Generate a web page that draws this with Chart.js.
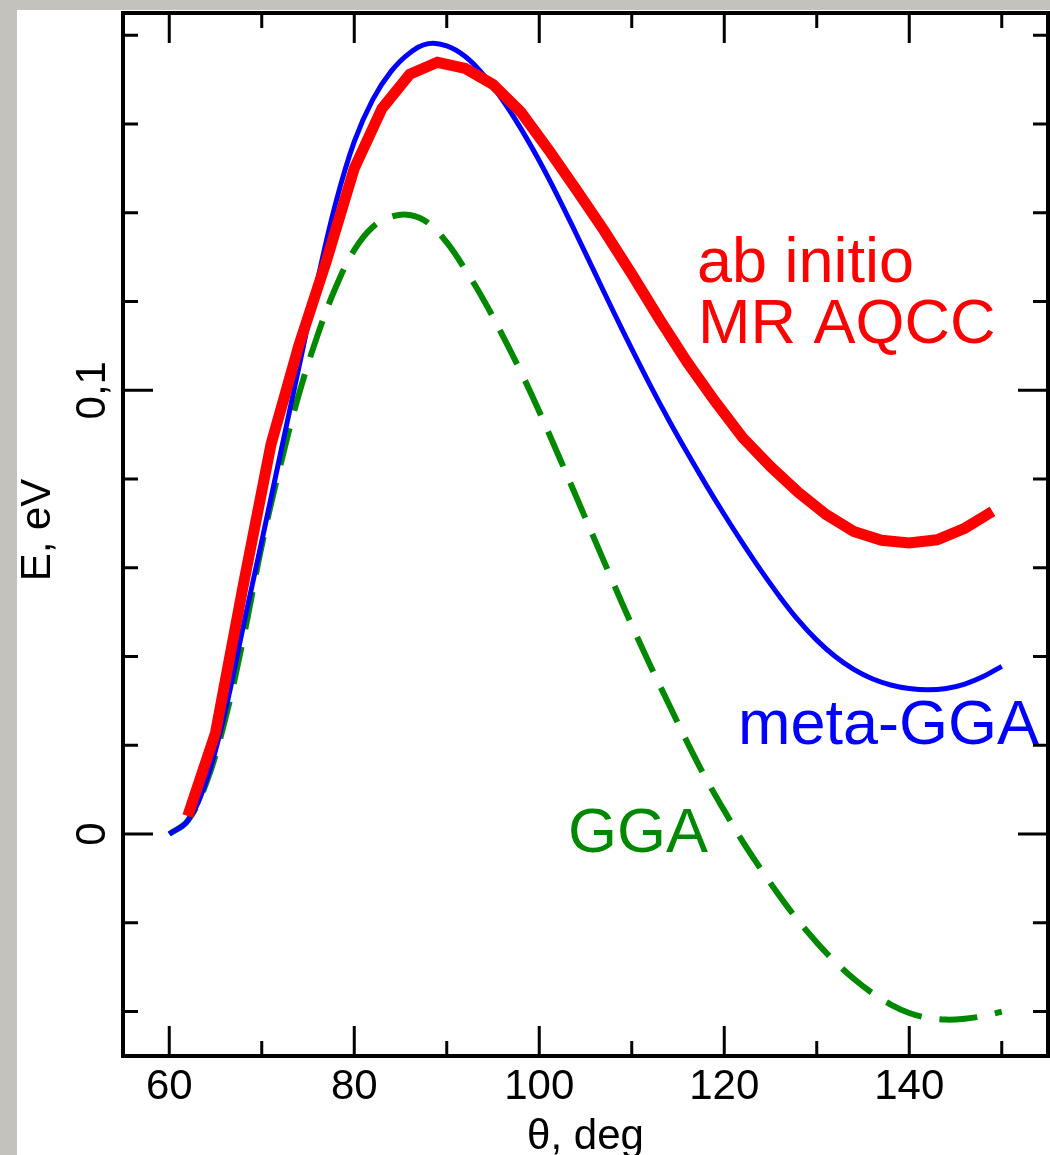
<!DOCTYPE html>
<html>
<head>
<meta charset="utf-8">
<script src="https://cdn.jsdelivr.net/npm/chart.js@4"></script>
<style>
  html, body { margin: 0; padding: 0; }
  body { width: 1050px; height: 1155px; background: #c4c2bc; position: relative; overflow: hidden; }
  #panel { position: absolute; left: 17px; top: 10px; width: 1033px; height: 1145px; background: #fff; }
  canvas { display: block; }
</style>
</head>
<body>
<div id="panel"><canvas id="chart" width="1033" height="1145"></canvas></div>
<script>
// angle grid of the DFT scans, deg
const thetaDft = [60, 62, 64, 66, 68, 70, 72, 74, 76, 78, 80, 82, 84, 86, 88, 90, 92, 94, 96, 98,
  100, 102, 104, 106, 108, 110, 112, 114, 116, 118, 120, 122, 124, 126, 128, 130, 132, 134, 136, 138,
  140, 142, 144, 146, 148, 150];

// meta-GGA energies, eV
const metaGga = [0.0000, 0.0030, 0.0120, 0.0272, 0.0468, 0.0660, 0.0855, 0.1050, 0.1245, 0.1422,
  0.1560, 0.1655, 0.1719, 0.1760, 0.1781, 0.1776, 0.1752, 0.1710, 0.1655, 0.1590,
  0.1517, 0.1437, 0.1352, 0.1265, 0.1178, 0.1093, 0.1011, 0.0933, 0.0859, 0.0788,
  0.0720, 0.0655, 0.0593, 0.0535, 0.0482, 0.0437, 0.0400, 0.0371, 0.0350, 0.0336,
  0.0328, 0.0325, 0.0328, 0.0338, 0.0355, 0.0378];

// GGA energies, eV
const gga = [0.0000, 0.0030, 0.0115, 0.0255, 0.0440, 0.0650, 0.0830, 0.0990, 0.1122, 0.1232,
  0.1316, 0.1368, 0.1391, 0.1395, 0.1377, 0.1333, 0.1272, 0.1203, 0.1125, 0.1042,
  0.0952, 0.0857, 0.0760, 0.0663, 0.0566, 0.0471, 0.0380, 0.0293, 0.0207, 0.0126,
  0.0053, -0.0017, -0.0080, -0.0140, -0.0195, -0.0244, -0.0288, -0.0326, -0.0358, -0.0384,
  -0.0403, -0.0414, -0.0418, -0.0416, -0.0410, -0.0400];

// ab initio MR AQCC points, deg / eV
const thetaAqcc = [62, 65, 68, 71, 74, 77, 80, 83, 86, 89, 92, 95, 98, 101, 104, 107, 110, 113, 116, 119,
  122, 125, 128, 131, 134, 137, 140, 143, 146, 149];
const aqcc = [0.0041, 0.0228, 0.0560, 0.0878, 0.1100, 0.1292, 0.1500, 0.1635, 0.1712, 0.1739,
  0.1725, 0.1689, 0.1627, 0.1542, 0.1452, 0.1360, 0.1262, 0.1160, 0.1063, 0.0975,
  0.0893, 0.0828, 0.0770, 0.0720, 0.0682, 0.0662, 0.0656, 0.0663, 0.0689, 0.0727];

const xTicks = [60, 70, 80, 90, 100, 110, 120, 130, 140, 150];
const xLabelled = [60, 80, 100, 120, 140];
const yTicks = [-0.04, -0.02, 0, 0.02, 0.04, 0.06, 0.08, 0.1, 0.12, 0.14, 0.16, 0.18];
const yLabelled = [0, 0.1];
const yLabelText = ['0', '0,1'];

const FONT = '"Liberation Sans", Arial, sans-serif';

function pts(xs, ys) {
  return xs.map((x, i) => ({ x: x, y: ys[i] }));
}

// frame, inward ticks on all four sides, rotated y labels, axis titles, curve labels
const frameAndText = {
  id: 'frameAndText',
  afterDatasetsDraw(chart) {
    const { ctx, chartArea: a, scales: { x, y } } = chart;
    ctx.save();
    ctx.strokeStyle = '#000';
    ctx.lineWidth = 3;
    ctx.beginPath();
    xTicks.forEach(v => {
      const px = x.getPixelForValue(v);
      const len = xLabelled.includes(v) ? 30 : 15;
      ctx.moveTo(px, a.bottom); ctx.lineTo(px, a.bottom - len);
      ctx.moveTo(px, a.top); ctx.lineTo(px, a.top + len);
    });
    yTicks.forEach(v => {
      const py = y.getPixelForValue(v);
      const len = yLabelled.some(l => Math.abs(l - v) < 1e-9) ? 30 : 15;
      ctx.moveTo(a.left, py); ctx.lineTo(a.left + len, py);
      ctx.moveTo(a.right, py); ctx.lineTo(a.right - len, py);
    });
    ctx.stroke();

    ctx.lineWidth = 4;
    ctx.strokeRect(a.left, a.top, a.right - a.left, a.bottom - a.top);

    ctx.fillStyle = '#000';
    ctx.font = '42px ' + FONT;
    ctx.textAlign = 'center';
    ctx.textBaseline = 'alphabetic';
    yLabelled.forEach((v, i) => {
      ctx.save();
      ctx.translate(88, y.getPixelForValue(v));
      ctx.rotate(-Math.PI / 2);
      ctx.fillText(yLabelText[i], 0, 0);
      ctx.restore();
    });

    ctx.save();
    ctx.translate(33, 520);
    ctx.rotate(-Math.PI / 2);
    ctx.fillText('E, eV', 0, 0);
    ctx.restore();

    ctx.fillText('\u03b8, deg', (a.left + a.right) / 2, 1139);

    ctx.font = '63px ' + FONT;
    ctx.textAlign = 'left';
    ctx.fillStyle = '#ff0000';
    ctx.fillText('ab initio', 680, 272);
    ctx.fillText('MR AQCC', 681, 333);
    ctx.fillStyle = '#0000ff';
    ctx.fillText('meta-GGA', 721, 734);
    ctx.fillStyle = '#008800';
    ctx.fillText('GGA', 551, 842);
    ctx.restore();
  }
};

new Chart(document.getElementById('chart'), {
  type: 'line',
  data: {
    datasets: [
      {
        label: 'ab initio MR AQCC',
        data: pts(thetaAqcc, aqcc),
        borderColor: '#ff0000',
        borderWidth: 11,
        borderJoinStyle: 'miter',
        tension: 0,
        pointRadius: 0
      },
      {
        label: 'meta-GGA',
        data: pts(thetaDft, metaGga),
        borderColor: '#0000ff',
        borderWidth: 5,
        tension: 0.4,
        pointRadius: 0
      },
      {
        label: 'GGA',
        data: pts(thetaDft, gga),
        borderColor: '#008800',
        borderWidth: 6,
        borderDash: [38, 18],
        tension: 0.4,
        pointRadius: 0
      }
    ]
  },
  options: {
    responsive: false,
    animation: false,
    devicePixelRatio: 1,
    layout: { padding: { top: 3, right: 2, left: 0, bottom: 0 } },
    plugins: {
      legend: { display: false },
      tooltip: { enabled: false }
    },
    scales: {
      x: {
        type: 'linear',
        min: 55,
        max: 155,
        grid: { display: false, drawTicks: false },
        border: { display: false },
        afterBuildTicks: s => { s.ticks = xTicks.map(v => ({ value: v })); },
        afterFit: s => { s.height = 99; },
        ticks: {
          autoSkip: false,
          maxRotation: 0,
          padding: 6,
          color: '#000',
          font: { family: FONT, size: 42 },
          callback: v => (xLabelled.includes(v) ? String(v) : '')
        }
      },
      y: {
        type: 'linear',
        min: -0.05,
        max: 0.185,
        grid: { display: false, drawTicks: false },
        border: { display: false },
        afterBuildTicks: s => { s.ticks = yTicks.map(v => ({ value: v })); },
        afterFit: s => { s.width = 106; },
        ticks: { display: false }
      }
    }
  },
  plugins: [frameAndText]
});
</script>
</body>
</html>
